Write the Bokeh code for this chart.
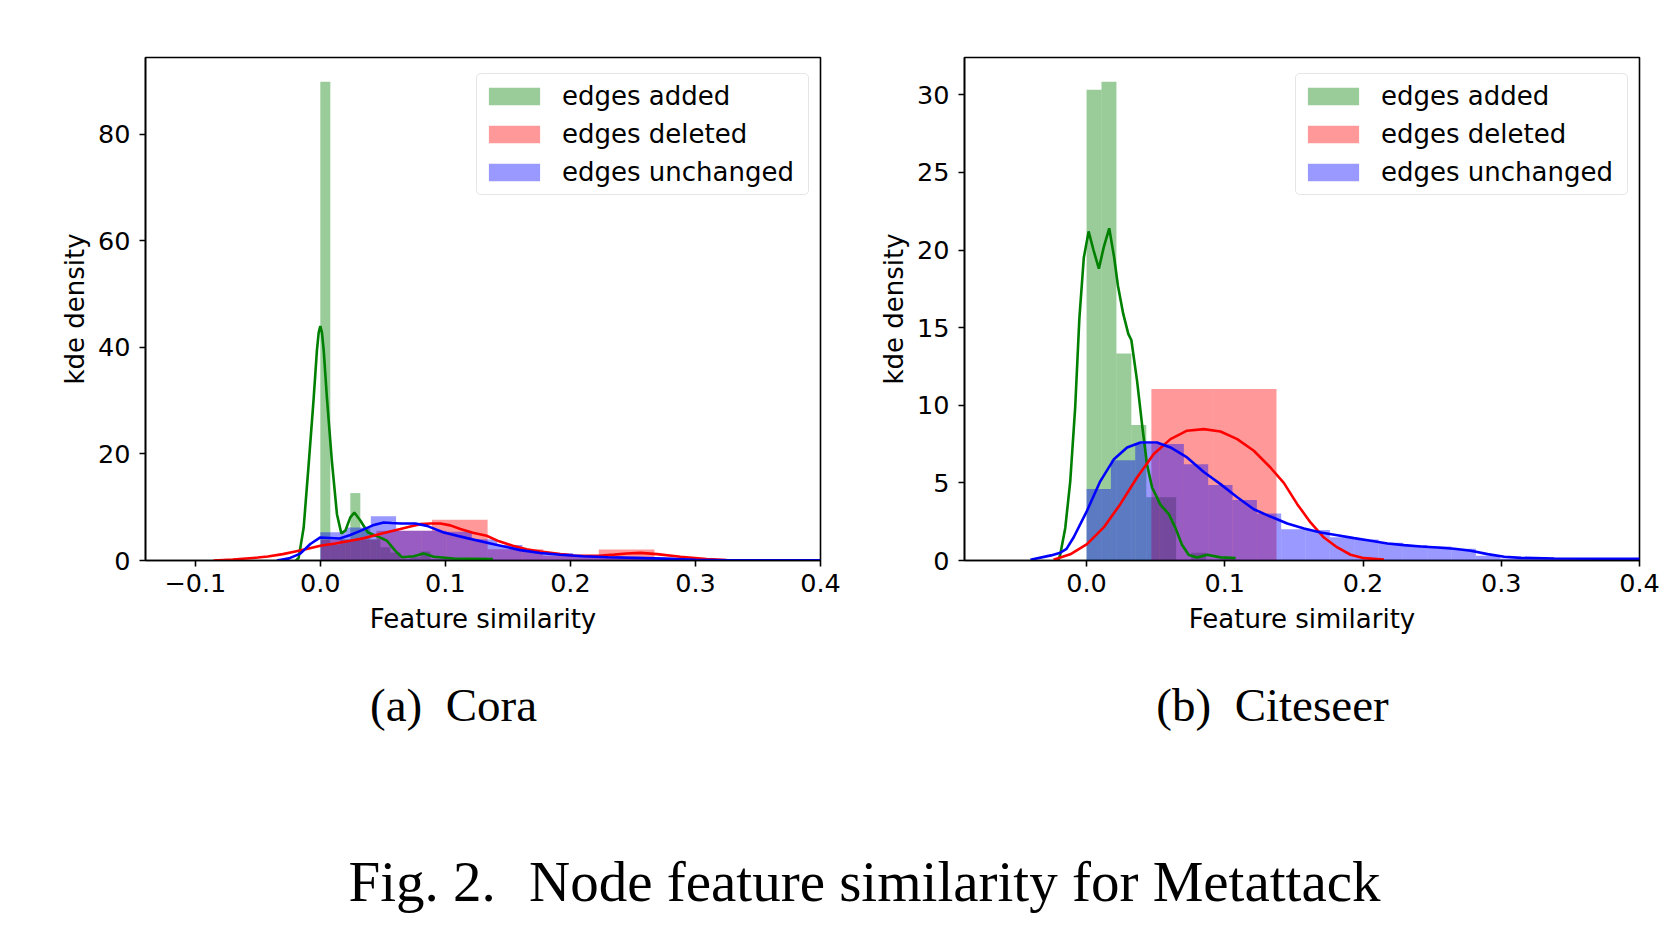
from bokeh.plotting import figure
from bokeh.models import Range1d, FixedTicker, Legend, LegendItem
from bokeh.layouts import column, row
from bokeh.embed import file_html
from bokeh.resources import INLINE
from bokeh.core.properties import value

# ---------------- data: (a) Cora ----------------
cora_added_edges = [0.0, 0.008, 0.016, 0.024, 0.032, 0.040, 0.048, 0.056, 0.064, 0.072, 0.080,
                    0.088, 0.096, 0.104, 0.112, 0.120, 0.128, 0.136]
cora_added_heights = [89.9, 3.0, 4.0, 12.66, 6.0, 4.0, 2.5, 1.5, 0.3, 0.6, 1.7,
                      0.3, 0.3, 0.3, 0.3, 0.3, 0.3]
cora_deleted_edges = [0.0004, 0.0449, 0.0893, 0.1338, 0.1783, 0.2227, 0.2672]
cora_deleted_heights = [3.9, 5.6, 7.64, 2.1, 0.9, 2.07]
cora_unch_edges = [0.0, 0.0202, 0.0404, 0.0606, 0.0808, 0.1010, 0.1212, 0.1414, 0.1616, 0.1818,
                   0.2020, 0.2222, 0.2424, 0.2626, 0.2828, 0.3030, 0.3232, 0.3434, 0.3636]
cora_unch_heights = [5.3, 6.2, 8.3, 5.6, 5.6, 5.4, 4.0, 2.9, 1.8, 1.4,
                     1.0, 0.8, 0.6, 0.5, 0.35, 0.2, 0.1, 0.05]

cora_kde_added_x = [-0.0195, -0.0173, -0.0133, -0.0093, -0.0053, -0.0027, -0.0013, 0.0, 0.0013, 0.0027,
                    0.0053, 0.0093, 0.0133, 0.0168, 0.02, 0.024, 0.0272, 0.032, 0.0379, 0.048,
                    0.0533, 0.06, 0.0653, 0.0747, 0.0827, 0.0907, 0.1067, 0.138]
cora_kde_added_y = [0.0, 0.5, 6.2, 18.1, 30.5, 39.5, 42.8, 44.0, 42.8, 39.5,
                    30.5, 18.5, 8.7, 5.1, 5.6, 8.1, 9.0, 7.5, 5.3, 4.3,
                    3.7, 1.8, 0.6, 0.8, 1.3, 0.7, 0.38, 0.25]
cora_kde_deleted_x = [-0.0853, -0.07, -0.05, -0.042, -0.03, -0.02, -0.01, 0.0, 0.012, 0.024, 0.035,
                      0.0453, 0.055, 0.064, 0.072, 0.08, 0.088, 0.096, 0.104, 0.112, 0.122, 0.133,
                      0.143, 0.154, 0.165, 0.176, 0.192, 0.2027, 0.215, 0.2227, 0.235, 0.245, 0.256,
                      0.2693, 0.288, 0.309, 0.325, 0.34]
cora_kde_deleted_y = [0.0, 0.2, 0.55, 0.75, 1.2, 1.7, 2.2, 2.76, 3.2, 3.7, 4.2,
                      4.83, 5.4, 5.9, 6.4, 6.83, 6.95, 6.95, 6.6, 5.9, 5.2, 4.64,
                      3.6, 2.76, 2.1, 1.7, 1.2, 0.95, 0.88, 0.9, 1.1, 1.3, 1.44,
                      1.2, 0.69, 0.25, 0.1, 0.02]
cora_kde_unch_x = [-0.0347, -0.025, -0.016, -0.008, 0.0, 0.0155, 0.024, 0.032, 0.042, 0.0507, 0.057,
                   0.064, 0.076, 0.0853, 0.0987, 0.1173, 0.1387, 0.16, 0.176, 0.192, 0.21, 0.23,
                   0.252, 0.275, 0.3, 0.325, 0.35, 0.375, 0.4]
cora_kde_unch_y = [0.0, 0.4, 1.3, 3.1, 4.33, 4.13, 4.8, 5.57, 6.6, 7.15, 7.05,
                   6.96, 6.96, 6.5, 5.26, 4.2, 3.07, 1.95, 1.4, 1.07, 0.8, 0.6,
                   0.5, 0.35, 0.15, 0.06, 0.03, 0.02, 0.02]

# ---------------- data: (b) Citeseer ----------------
cite_added_edges = [0.0, 0.0108, 0.0216, 0.0324, 0.0432, 0.0540, 0.0648, 0.0756, 0.0864, 0.0972, 0.1080]
cite_added_heights = [30.33, 30.84, 13.34, 8.72, 4.08, 4.08, 0.0, 0.5, 0.0, 0.1]
cite_deleted_edges = [0.0469, 0.0921, 0.1374]
cite_deleted_heights = [11.05, 11.05]
cite_unch_edges = [0.0, 0.0176, 0.0352, 0.0528, 0.0704, 0.0880, 0.1056, 0.1232, 0.1408, 0.1584,
                   0.1760, 0.1936, 0.2112, 0.2288, 0.2464, 0.2640, 0.2816, 0.2992, 0.3168,
                   0.3344, 0.3520, 0.3696, 0.3872, 0.4048]
cite_unch_heights = [4.6, 6.45, 7.5, 7.5, 6.2, 4.86, 3.89, 3.03, 2.02, 1.96,
                     1.5, 1.35, 1.15, 1.0, 0.9, 0.75, 0.3, 0.13, 0.13,
                     0.13, 0.13, 0.13, 0.13]

cite_kde_added_x = [-0.0205, -0.019, -0.0154, -0.0118, -0.0082, -0.0052, -0.002, 0.0015, 0.005, 0.0089,
                    0.0125, 0.0164, 0.02, 0.0227, 0.0265, 0.0302, 0.0324, 0.0365, 0.0401, 0.0437,
                    0.0474, 0.0534, 0.0595, 0.0643, 0.0691, 0.074, 0.08, 0.0872, 0.0969, 0.1078]
cite_kde_added_y = [0.0, 0.4, 2.1, 5.1, 9.9, 15.6, 19.5, 21.2, 20.0, 18.8,
                    20.2, 21.4, 19.5, 17.7, 15.9, 14.6, 14.2, 11.6, 8.8, 6.2,
                    4.7, 3.6, 2.99, 2.1, 1.0, 0.35, 0.2, 0.37, 0.2, 0.16]
cite_kde_deleted_x = [-0.0239, -0.0118, 0.0003, 0.0124, 0.0244, 0.0365, 0.0486, 0.0607, 0.0727, 0.0848,
                      0.0969, 0.109, 0.121, 0.133, 0.1427, 0.1524, 0.162, 0.1717, 0.1814, 0.191,
                      0.2007, 0.2152]
cite_kde_deleted_y = [0.05, 0.4, 1.05, 2.13, 3.63, 5.35, 6.86, 7.82, 8.36, 8.46,
                      8.31, 7.82, 7.07, 5.99, 5.0, 3.63, 2.45, 1.48, 0.84, 0.37,
                      0.15, 0.06]
cite_kde_unch_x = [-0.0406, -0.0257, -0.019, -0.0145, -0.0093, 0.0003, 0.0099, 0.0196, 0.0293, 0.039,
                   0.051, 0.0607, 0.0727, 0.0848, 0.0969, 0.109, 0.121, 0.133, 0.1452, 0.1573,
                   0.1694, 0.1814, 0.1935, 0.2056, 0.2177, 0.2297, 0.2418, 0.2539, 0.266, 0.278,
                   0.2901, 0.3022, 0.3143, 0.3384, 0.3746, 0.4]
cite_kde_unch_y = [0.05, 0.33, 0.5, 0.75, 1.5, 3.2, 5.1, 6.5, 7.28, 7.6,
                   7.6, 7.28, 6.64, 5.7, 4.92, 4.07, 3.3, 2.83, 2.38, 2.06,
                   1.8, 1.63, 1.44, 1.27, 1.1, 0.99, 0.9, 0.84, 0.76, 0.63,
                   0.41, 0.24, 0.17, 0.13, 0.11, 0.11]

# ---------------- ticks / labels ----------------
cora_x_ticks = [-0.1, 0.0, 0.1, 0.2, 0.3, 0.4]
cora_x_tick_labels = ["\u22120.1", "0.0", "0.1", "0.2", "0.3", "0.4"]
cora_y_ticks = [0, 20, 40, 60, 80]
cora_y_tick_labels = ["0", "20", "40", "60", "80"]
cite_x_ticks = [0.0, 0.1, 0.2, 0.3, 0.4]
cite_x_tick_labels = ["0.0", "0.1", "0.2", "0.3", "0.4"]
cite_y_ticks = [0, 5, 10, 15, 20, 25, 30]
cite_y_tick_labels = ["0", "5", "10", "15", "20", "25", "30"]

series_labels = ["edges added", "edges deleted", "edges unchanged"]
series_colors = ["#008000", "#ff0000", "#0000ff"]
x_label = "Feature similarity"
y_label = "kde density"
sub_captions = ["(a)\u2002Cora", "(b)\u2002Citeseer"]
main_caption = "Fig. 2.\u2002\u200aNode feature similarity for Metattack"

FONT = "DejaVu Sans"
TOP_BORDER = 57
BOTTOM_BORDER = 105


def panel(xr, yr, border_left, border_right, hists, kdes, xt, xtl, yt, ytl):
    p = figure(frame_width=675, frame_height=503,
               x_range=Range1d(*xr), y_range=Range1d(*yr),
               output_backend="svg", toolbar_location=None,
               min_border_left=border_left, min_border_right=border_right,
               min_border_top=TOP_BORDER, min_border_bottom=BOTTOM_BORDER)
    p.xgrid.visible = False
    p.ygrid.visible = False
    p.outline_line_color = "black"
    p.outline_line_width = 1.6
    p.outline_line_alpha = 1.0

    # bars first (patches sit below lines, as in the source figure)
    hist_renderers = []
    for (edges, heights), color in zip(hists, series_colors):
        r = p.quad(left=edges[:-1], right=edges[1:], top=heights, bottom=0,
                   fill_color=color, fill_alpha=0.4, line_color=None)
        hist_renderers.append(r)
    for (kx, ky), color in zip(kdes, series_colors):
        p.line(kx, ky, line_color=color, line_width=2.6)

    for ax in (p.xaxis[0], p.yaxis[0]):
        ax.axis_line_color = "black"
        ax.axis_line_width = 1.6
        ax.major_tick_line_color = "black"
        ax.major_tick_line_width = 1.6
        ax.major_tick_out = 6
        ax.major_tick_in = 0
        ax.minor_tick_line_color = None
        ax.major_label_text_font = FONT
        ax.major_label_text_font_size = "25.5px"
        ax.major_label_text_color = "black"
        ax.axis_label_text_font = FONT
        ax.axis_label_text_font_size = "26px"
        ax.axis_label_text_font_style = "normal"
        ax.axis_label_text_color = "black"

    p.xaxis.ticker = FixedTicker(ticks=xt)
    p.xaxis.major_label_overrides = {t: l for t, l in zip(xt, xtl)}
    p.yaxis.ticker = FixedTicker(ticks=yt)
    p.yaxis.major_label_overrides = {t: l for t, l in zip(yt, ytl)}
    p.xaxis.major_label_standoff = 7
    p.yaxis.major_label_standoff = 9
    p.xaxis.axis_label = x_label
    p.yaxis.axis_label = y_label
    p.xaxis.axis_label_standoff = 9
    p.yaxis.axis_label_standoff = 5

    legend = Legend(items=[LegendItem(label=lab, renderers=[r])
                           for lab, r in zip(series_labels, hist_renderers)],
                    location=(331, 365), orientation="vertical",
                    glyph_width=64, glyph_height=22, label_standoff=16,
                    label_width=241, label_height=34,
                    padding=5, spacing=4, margin=0,
                    label_text_font=FONT, label_text_font_size="26px",
                    label_text_color="black",
                    border_line_color="#cccccc", border_line_width=1.5,
                    background_fill_color="white", background_fill_alpha=0.8)
    try:
        legend.border_radius = 5
    except Exception:
        pass
    p.add_layout(legend)
    return p


pa = panel((-0.1398, 0.4), (0, 94.45), 145, 52,
           [(cora_added_edges, cora_added_heights),
            (cora_deleted_edges, cora_deleted_heights),
            (cora_unch_edges, cora_unch_heights)],
           [(cora_kde_added_x, cora_kde_added_y),
            (cora_kde_deleted_x, cora_kde_deleted_y),
            (cora_kde_unch_x, cora_kde_unch_y)],
           cora_x_ticks, cora_x_tick_labels, cora_y_ticks, cora_y_tick_labels)

pb = panel((-0.0883, 0.4), (0, 32.4), 92, 31,
           [(cite_added_edges, cite_added_heights),
            (cite_deleted_edges, cite_deleted_heights),
            (cite_unch_edges, cite_unch_heights)],
           [(cite_kde_added_x, cite_kde_added_y),
            (cite_kde_deleted_x, cite_kde_deleted_y),
            (cite_kde_unch_x, cite_kde_unch_y)],
           cite_x_ticks, cite_x_tick_labels, cite_y_ticks, cite_y_tick_labels)

# caption strip (pixel coordinates, y downward)
CAP_TOP = TOP_BORDER + 503 + BOTTOM_BORDER
CW, CH = 1670, 930 - CAP_TOP
pc = figure(width=CW, height=CH, x_range=Range1d(0, CW), y_range=Range1d(CH, 0),
            output_backend="svg", toolbar_location=None,
            x_axis_type=None, y_axis_type=None,
            min_border_left=0, min_border_right=0, min_border_top=0, min_border_bottom=0)
pc.xgrid.visible = False
pc.ygrid.visible = False
pc.outline_line_color = None
pc.text(x=[453, 1272], y=[704 - CAP_TOP, 704 - CAP_TOP], text=sub_captions,
        text_font=value("Liberation Serif"), text_font_size="47px",
        text_align="center", text_baseline="alphabetic", text_color="black")
pc.text(x=[864], y=[881 - CAP_TOP], text=[main_caption],
        text_font=value("Liberation Serif"), text_font_size="57px",
        text_align="center", text_baseline="alphabetic", text_color="black")

layout = column(row(pa, pb), pc)
open("out.html", "w").write(file_html(layout, INLINE))
